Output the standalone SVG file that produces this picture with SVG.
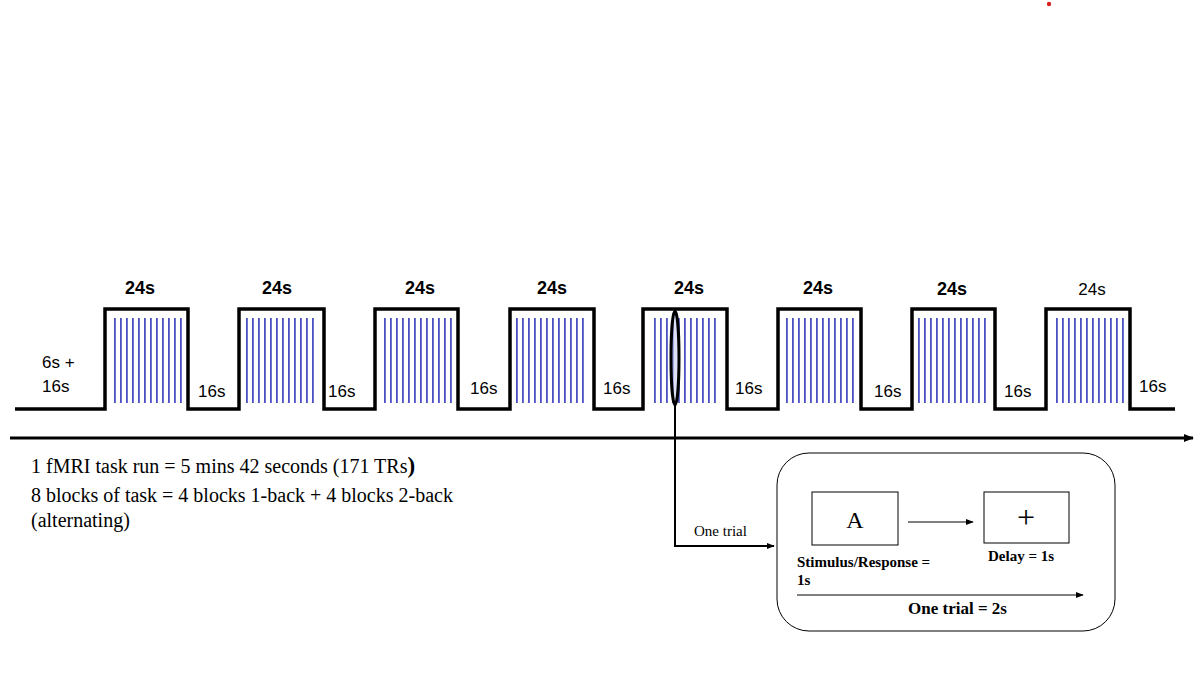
<svg xmlns="http://www.w3.org/2000/svg" width="1200" height="674" viewBox="0 0 1200 674">
<defs>
<style>
.wave{fill:none;stroke:#000;stroke-width:3.5;stroke-linejoin:miter}
.lbl{font-family:"Liberation Sans",Arial,sans-serif;font-size:17px;fill:#000}
.b{font-weight:bold;font-size:18px}
.serif{font-family:"Liberation Serif","Times New Roman",serif;fill:#000}
.thin{fill:none;stroke:#000;stroke-width:1}
</style>
<marker id="ah" viewBox="0 0 10 10" refX="9" refY="5" markerWidth="10" markerHeight="10" markerUnits="userSpaceOnUse" orient="auto"><path d="M0,1 L10,5 L0,9 z" fill="#000"/></marker>
<marker id="ahs" viewBox="0 0 10 10" refX="9" refY="5" markerWidth="8" markerHeight="8" markerUnits="userSpaceOnUse" orient="auto"><path d="M0,1 L10,5 L0,9 z" fill="#000"/></marker>
<pattern id="trs" x="0" y="0" width="6" height="674" patternUnits="userSpaceOnUse"><rect x="0" y="0" width="1.8" height="674" fill="#4a50c2"/></pattern>
</defs>
<rect width="1200" height="674" fill="#fff"/>
<circle cx="1049" cy="4" r="2.2" fill="#d62020"/>

<g id="waveform">
<path class="wave" d="M15,409 H105 V309 H188 V409 H239 V309 H324 V409 H375 V309 H458 V409 H510 V309 H594 V409 H643 V309 H727 V409 H778 V309 H861 V409 H912 V309 H995 V409 H1046 V309 H1130 V409 H1175"/>
</g>
<g id="trials">
<rect x="114" y="318" width="70" height="85" fill="url(#trs)"/>
<rect x="246" y="318" width="70" height="85" fill="url(#trs)"/>
<rect x="384" y="318" width="70" height="85" fill="url(#trs)"/>
<rect x="516" y="318" width="70" height="85" fill="url(#trs)"/>
<rect x="650" y="318" width="70" height="85" fill="url(#trs)"/>
<rect x="786" y="318" width="70" height="85" fill="url(#trs)"/>
<rect x="918" y="318" width="70" height="85" fill="url(#trs)"/>
<rect x="1054" y="318" width="70" height="85" fill="url(#trs)"/>
</g>
<g id="block-labels">
<text class="lbl b" x="140" y="294" text-anchor="middle">24s</text>
<text class="lbl b" x="277" y="294" text-anchor="middle">24s</text>
<text class="lbl b" x="420" y="294" text-anchor="middle">24s</text>
<text class="lbl b" x="552" y="294" text-anchor="middle">24s</text>
<text class="lbl b" x="689" y="294" text-anchor="middle">24s</text>
<text class="lbl b" x="818" y="294" text-anchor="middle">24s</text>
<text class="lbl b" x="952" y="295" text-anchor="middle">24s</text>
<text class="lbl" x="1092" y="295" text-anchor="middle" font-size="18">24s</text>
</g>
<g id="rest-labels">
<text class="lbl" x="42" y="368">6s +</text>
<text class="lbl" x="42" y="392">16s</text>
<text class="lbl" x="198" y="397">16s</text>
<text class="lbl" x="328" y="397">16s</text>
<text class="lbl" x="470" y="394">16s</text>
<text class="lbl" x="603" y="394">16s</text>
<text class="lbl" x="735" y="394">16s</text>
<text class="lbl" x="874" y="397">16s</text>
<text class="lbl" x="1004" y="397">16s</text>
<text class="lbl" x="1139" y="392">16s</text>
</g>

<g id="connectors">
<line x1="10" y1="438" x2="1193" y2="438" stroke="#000" stroke-width="3" marker-end="url(#ah)"/>
<ellipse cx="675" cy="358" rx="4" ry="47" fill="#c8cbf0" fill-opacity="0.6" stroke="#000" stroke-width="3"/>
<path d="M675,405 V546 H774" fill="none" stroke="#000" stroke-width="2" marker-end="url(#ahs)"/>
<line x1="908" y1="522" x2="973" y2="522" stroke="#000" stroke-width="1" marker-end="url(#ahs)"/>
<line x1="797" y1="595" x2="1083" y2="595" stroke="#000" stroke-width="1" marker-end="url(#ahs)"/>
</g>

<g id="summary">
<text class="serif" x="31" y="473" font-size="20">1 fMRI task run = 5 mins 42 seconds (171 TRs<tspan font-weight="bold" font-size="23">)</tspan></text>
<text class="serif" x="31" y="502" font-size="20">8 blocks of task = 4 blocks 1-back + 4 blocks 2-back</text>
<text class="serif" x="31" y="527" font-size="20">(alternating)</text>
</g>
<text id="one-trial-label" class="serif" x="694" y="536" font-size="15">One trial</text>

<g id="trial-box">
<rect x="777" y="453" width="338" height="178" rx="32" ry="32" class="thin"/>
</g>
<g id="stimulus">
<rect x="812" y="492" width="86" height="53" class="thin"/>
<text class="serif" x="855" y="528" font-size="24" text-anchor="middle">A</text>
<text class="serif" font-weight="bold" x="797" y="567" font-size="15">Stimulus/Response =</text>
<text class="serif" font-weight="bold" x="797" y="585" font-size="15">1s</text>
</g>
<g id="delay">
<rect x="984" y="492" width="85" height="51" class="thin"/>
<text class="serif" x="1026" y="528" font-size="32" font-weight="300" text-anchor="middle">+</text>
<text class="serif" font-weight="bold" x="988" y="561" font-size="15">Delay = 1s</text>
</g>
<text id="trial-duration" class="serif" font-weight="bold" x="908" y="614" font-size="17">One trial = 2s</text>
</svg>
